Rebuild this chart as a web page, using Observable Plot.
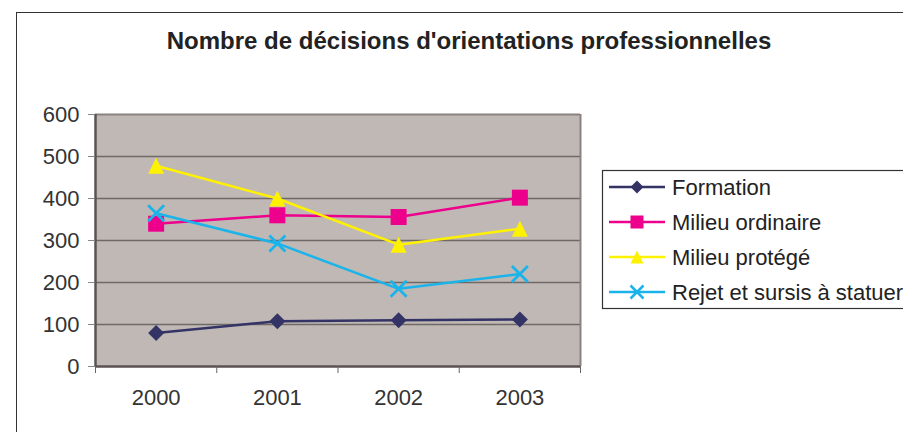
<!DOCTYPE html>
<html>
<head>
<meta charset="utf-8">
<script src="https://cdn.jsdelivr.net/npm/d3@7"></script>
<script src="https://cdn.jsdelivr.net/npm/@observablehq/plot@0.6"></script>
<style>
  html, body { margin: 0; padding: 0; background: #fff; }
  #wrap { position: relative; width: 903px; height: 432px; overflow: hidden; background: #fff; font-family: "Liberation Sans", Arial, sans-serif; }
  #border { position: absolute; left: 16px; top: 12px; width: 2000px; height: 2000px; border-left: 1.5px solid #333; border-top: 1.5px solid #333; box-sizing: border-box; }
  #title { position: absolute; left: 0; top: 27px; width: 938px; text-align: center; font-weight: bold; font-size: 24px; line-height: 28px; color: #222; white-space: nowrap; }
  #chart, #legend { position: absolute; left: 0; top: 0; }
</style>
</head>
<body>
<div id="wrap">
  <div id="border"></div>
  <div id="title">Nombre de décisions d'orientations professionnelles</div>
  <div id="chart"></div>
  <div id="legend"></div>
</div>
<script>
// ---- data ----
const years = [2000, 2001, 2002, 2003];
const formation = [80, 108, 110, 112];
const milieuOrdinaire = [340, 360, 356, 402];
const milieuProtege = [478, 400, 290, 328];
const rejetSursis = [365, 293, 185, 220];
const seriesNames = ["Formation", "Milieu ordinaire", "Milieu protégé", "Rejet et sursis à statuer"];
const seriesColors = ["#333366", "#EC008C", "#FFF200", "#1AB4EA"];
const yTicks = [0, 100, 200, 300, 400, 500, 600];

const seriesValues = [formation, milieuOrdinaire, milieuProtege, rejetSursis];
const data = seriesNames.flatMap((s, i) => years.map((yr, j) => ({series: s, year: yr, value: seriesValues[i][j]})));
const boundaries = [...years.map(y => y - 0.5), years[years.length - 1] + 0.5];

// custom symbols (half-extent = r)
const diamondSym = {draw(ctx, size) { const r = Math.sqrt(size / Math.PI); ctx.moveTo(0, -r); ctx.lineTo(r, 0); ctx.lineTo(0, r); ctx.lineTo(-r, 0); ctx.closePath(); }};
const squareSym = {draw(ctx, size) { const r = Math.sqrt(size / Math.PI); ctx.moveTo(-r, -r); ctx.lineTo(r, -r); ctx.lineTo(r, r); ctx.lineTo(-r, r); ctx.closePath(); }};
const triangleSym = {draw(ctx, size) { const r = Math.sqrt(size / Math.PI); ctx.moveTo(0, -r); ctx.lineTo(r, r); ctx.lineTo(-r, r); ctx.closePath(); }};
const timesSym = {draw(ctx, size) { const r = Math.sqrt(size / Math.PI); ctx.moveTo(-r, -r); ctx.lineTo(r, r); ctx.moveTo(r, -r); ctx.lineTo(-r, r); }};
const symbols = [diamondSym, squareSym, triangleSym, timesSym];

const seriesMarks = seriesNames.flatMap((s, i) => {
  const d = data.filter(r => r.series === s);
  const isStroke = symbols[i] === timesSym;
  return [
    Plot.line(d, {x: "year", y: "value", stroke: seriesColors[i], strokeWidth: 2.5}),
    Plot.dot(d, {x: "year", y: "value", symbol: symbols[i], r: 8,
      fill: isStroke ? "none" : seriesColors[i],
      stroke: isStroke ? seriesColors[i] : "none",
      strokeWidth: isStroke ? 2.8 : 0})
  ];
});

const chart = Plot.plot({
  width: 903,
  height: 432,
  marginLeft: 95,
  marginRight: 323,
  marginTop: 114,
  marginBottom: 66,
  x: {type: "linear", domain: [years[0] - 0.5, years[years.length - 1] + 0.5]},
  y: {domain: [0, 600]},
  style: {fontFamily: "'Liberation Sans', Arial, sans-serif", fontSize: "22px", color: "#333", background: "transparent", overflow: "visible"},
  marks: [
    Plot.frame({fill: "#C0B8B5", stroke: null}),
    Plot.gridY(yTicks.filter(d => d > 0 && d < 600), {stroke: "#6e6866", strokeOpacity: 1, strokeWidth: 1.3}),
    Plot.ruleY([600], {stroke: "#8a8280", strokeWidth: 2}),
    Plot.ruleX([boundaries[boundaries.length - 1]], {stroke: "#8a8280", strokeWidth: 2}),
    Plot.ruleX([boundaries[0]], {stroke: "#5a5352", strokeWidth: 2.5}),
    Plot.ruleY([0], {stroke: "#5a5352", strokeWidth: 2.5}),
    Plot.axisY(yTicks, {tickSize: 7, tickPadding: 9, stroke: "#888", fill: "#333", label: null, fontSize: 22}),
    Plot.axisX(boundaries, {tickSize: 7, tickFormat: () => "", stroke: "#666", label: null}),
    Plot.axisX(years, {tickSize: 0, tickPadding: 23, tickFormat: d => String(d), fill: "#333", label: null, fontSize: 22}),
    ...seriesMarks
  ]
});
document.getElementById("chart").append(chart);

// ---- legend ----
const lg = d3.select("#legend").append("svg").attr("width", 903).attr("height", 432);
lg.append("rect").attr("x", 602.5).attr("y", 170.5).attr("width", 400).attr("height", 138)
  .attr("fill", "#fff").attr("stroke", "#333").attr("stroke-width", 1.2);
const entryY = [187, 222, 257, 292];
seriesNames.forEach((s, i) => {
  const g = lg.append("g").attr("transform", `translate(0,${entryY[i]})`);
  g.append("line").attr("x1", 609).attr("x2", 665).attr("y1", 0).attr("y2", 0)
    .attr("stroke", seriesColors[i]).attr("stroke-width", 2.5);
  const path = d3.path();
  symbols[i].draw(path, Math.PI * 6.5 * 6.5);
  const isStroke = symbols[i] === timesSym;
  g.append("path").attr("transform", "translate(637,0)").attr("d", path.toString())
    .attr("fill", isStroke ? "none" : seriesColors[i])
    .attr("stroke", isStroke ? seriesColors[i] : "none")
    .attr("stroke-width", isStroke ? 2.5 : 0);
  g.append("text").attr("x", 672).attr("y", 0).attr("dy", "0.36em")
    .attr("font-family", "'Liberation Sans', Arial, sans-serif").attr("font-size", 22)
    .attr("fill", "#222").text(s);
});
</script>
</body>
</html>
